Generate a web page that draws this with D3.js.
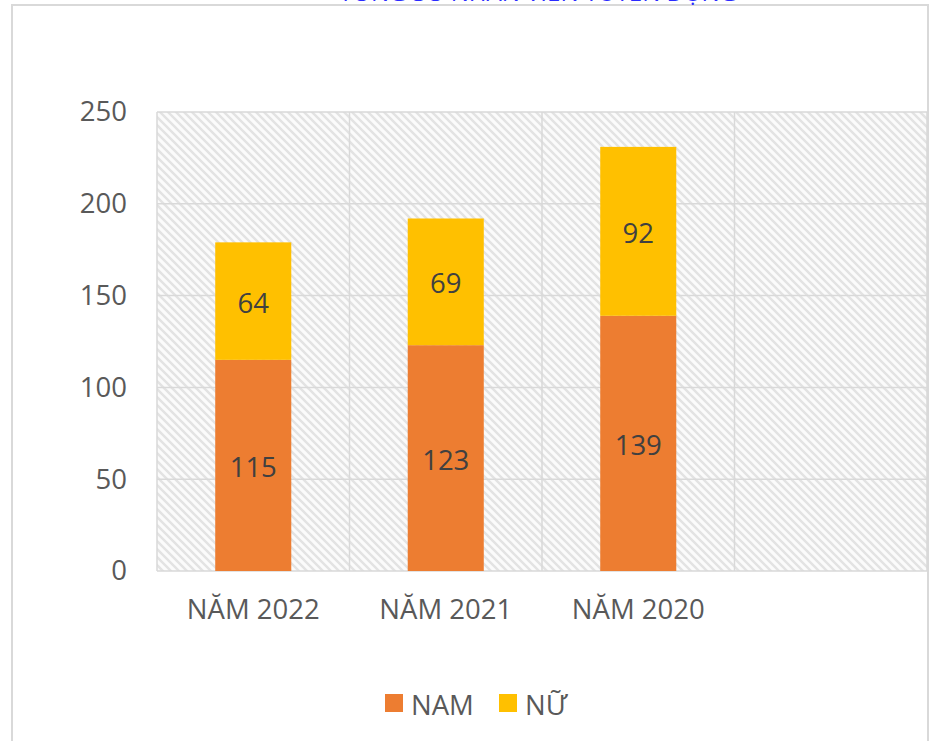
<!DOCTYPE html>
<html><head><meta charset="utf-8">
<script src="https://cdn.jsdelivr.net/npm/d3@7"></script>
<style>html,body{margin:0;padding:0;background:#fff;overflow:hidden}text{font-family:"Open Sans",sans-serif}</style>
</head><body>
<script>
const categories = ["NĂM 2022", "NĂM 2021", "NĂM 2020", ""];
const namValues = [115, 123, 139, null];
const nuValues = [64, 69, 92, null];
const yTicks = [0, 50, 100, 150, 200, 250];
const seriesNames = ["NAM", "NỮ"];
const seriesColors = ["#ED7D31", "#FFC000"];
const titleText = "TỔNG SỐ NHÂN VIÊN TUYỂN DỤNG";

const W = 930, H = 741;
const FS = 27.5;
const svg = d3.select("body").append("svg").attr("width", W).attr("height", H);
const defs = svg.append("defs");
const pat = defs.append("pattern").attr("id","hatch").attr("patternUnits","userSpaceOnUse")
  .attr("width",8).attr("height",8);
pat.append("rect").attr("width",8).attr("height",8).attr("fill","#fbfbfb");
pat.append("path").attr("d","M-2,-2 L10,10 M-2,6 L2,10 M6,-2 L10,2")
  .attr("stroke","#e3e3e3").attr("stroke-width",2.4);

// outer border
svg.append("rect").attr("x",12).attr("y",5).attr("width",916).attr("height",H+20)
  .attr("fill","#fff").attr("stroke","#d9d9d9").attr("stroke-width",2);

// title (cut off at top, as in the reference)
svg.append("text").attr("x",538).attr("y",1.4).attr("text-anchor","middle")
  .attr("fill","#2a2aff").attr("font-size",24).text(titleText);

const x0 = 157, x1 = 927, y0 = 571, y1 = 112;
const x = d3.scaleBand().domain(categories.map((d,i)=>i)).range([x0,x1]).padding(0);
const y = d3.scaleLinear().domain([0,250]).range([y0,y1]);

const g = svg.append("g");
g.append("rect").attr("x",x0).attr("y",y1).attr("width",x1-x0).attr("height",y0-y1).attr("fill","url(#hatch)");

// gridlines
g.selectAll(".hg").data(yTicks).join("line")
  .attr("x1",x0).attr("x2",x1).attr("y1",d=>y(d)).attr("y2",d=>y(d))
  .attr("stroke","#d9d9d9").attr("stroke-width",1.5);
const vlines = categories.map((d,i)=>x(i)).concat([x1]);
g.selectAll(".vg").data(vlines).join("line")
  .attr("x1",d=>d).attr("x2",d=>d).attr("y1",y1).attr("y2",y0)
  .attr("stroke","#d9d9d9").attr("stroke-width",1.5);

// bars
const barW = x.bandwidth()*0.395;
const rows = categories.map((c,i)=>({i, c, nam:namValues[i], nu:nuValues[i]})).filter(d=>d.nam!=null);
rows.forEach(d=>{
  const cx = x(d.i) + x.bandwidth()/2;
  const segs = [{v:d.nam, b:0, col:seriesColors[0]},{v:d.nu, b:d.nam, col:seriesColors[1]}];
  segs.forEach(s=>{
    g.append("rect").attr("x",cx-barW/2).attr("width",barW)
      .attr("y",y(s.b+s.v)).attr("height",y(s.b)-y(s.b+s.v)).attr("fill",s.col);
    g.append("text").attr("x",cx).attr("y",(y(s.b)+y(s.b+s.v))/2 + 1)
      .attr("text-anchor","middle").attr("dominant-baseline","central")
      .attr("fill","#404040").attr("font-size",FS).text(s.v);
  });
});

// y axis labels
const yAxis = d3.axisLeft(y).tickValues(yTicks).tickSize(0).tickPadding(30);
const ya = svg.append("g").attr("transform",`translate(${x0},0)`).call(yAxis);
ya.select(".domain").remove();
ya.selectAll("text").attr("fill","#595959").attr("font-size",FS).attr("font-family","'Open Sans',sans-serif");

// x axis labels
const xAxis = d3.axisBottom(x).tickFormat(i=>categories[i]).tickSize(0).tickPadding(28);
const xa = svg.append("g").attr("transform",`translate(0,${y0})`).call(xAxis);
xa.select(".domain").remove();
xa.selectAll("text").attr("fill","#595959").attr("font-size",FS).attr("font-family","'Open Sans',sans-serif");

// legend
const legX = [385, 499];
seriesNames.forEach((n,i)=>{
  svg.append("rect").attr("x",legX[i]).attr("y",694).attr("width",18).attr("height",18).attr("fill",seriesColors[i]);
  svg.append("text").attr("x",legX[i]+26).attr("y",704).attr("dominant-baseline","central")
    .attr("fill","#595959").attr("font-size",FS).text(n);
});
</script>
</body></html>
